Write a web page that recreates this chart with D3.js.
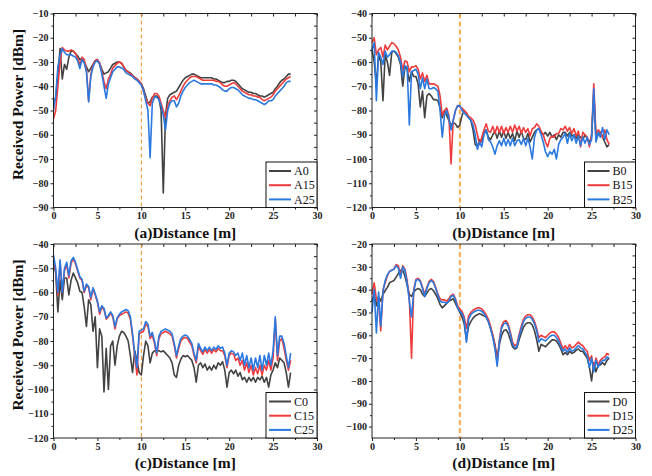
<!DOCTYPE html>
<html>
<head>
<meta charset="utf-8">
<script src="https://cdn.jsdelivr.net/npm/d3@7"></script>
<style>
    body { margin: 0; background: #fff; }
    svg { display: block; }
</style>
</head>
<body>
<div id="chart"></div>
<script>
// measurement positions along the corridor [m], one sample every 0.25 m
const distance = d3.range(0, 27.001, 0.25);

const xTicks = [0, 5, 10, 15, 20, 25, 30];
const xMinorTicks = [2.5, 7.5, 12.5, 17.5, 22.5, 27.5];
const yTicksA = [-90, -80, -70, -60, -50, -40, -30, -20, -10];
const yTicksB = [-120, -110, -100, -90, -80, -70, -60, -50, -40];
const yTicksD = [-100, -90, -80, -70, -60, -50, -40, -30, -20];

const seriesColors = ["#424242", "#ef3b3b", "#2a79e0"];

// panel (a)
const A0 = [
    -47, -45, -35, -24.5, -37, -31, -33, -28,
    -25.5, -25.5, -26.5, -27.5, -29, -28.5, -30, -32,
    -34, -32.5, -31, -29.5, -29, -30.5, -33, -35,
    -34.5, -34, -32.5, -31, -30.5, -30, -30, -30.5,
    -32, -33.5, -34, -34.5, -35.5, -36.5, -37, -38,
    -39, -41, -44, -47, -46.5, -44.5, -44, -44,
    -45, -50, -84, -52, -45, -43.5, -43, -42.5,
    -42, -40.5, -39, -37.5, -36.5, -36, -35.5, -35,
    -35, -35.5, -36, -36.5, -36.5, -36.5, -36.5, -36.5,
    -36.5, -37, -37, -37.5, -38, -38.5, -38.5, -38,
    -38, -37.5, -37.5, -38, -39, -40, -41, -41.5,
    -42, -42.5, -42.5, -43, -43, -43.5, -44, -44,
    -44.5, -44, -43.5, -43, -42.5, -41, -40, -38.5,
    -37.5, -37, -36, -35, -35
];
const A15 = [
    -53.5, -50, -40, -30, -24, -25, -25.5, -25.5,
    -25, -25.5, -26.5, -28.5, -31, -28, -29, -33,
    -46, -35, -31, -29.5, -29, -30.5, -34, -38,
    -41, -37, -35, -32.5, -31.5, -30.5, -30, -30.5,
    -32, -33.5, -34, -35, -35.5, -36.5, -37, -38,
    -39, -42, -45, -47, -48, -45, -43, -43,
    -44, -47, -50, -53, -48, -46, -44.5, -44,
    -45.5, -44, -42, -40, -38.5, -37.5, -36.5, -36,
    -36, -36, -36.5, -37, -37.5, -37.5, -37.5, -37.5,
    -37.5, -37.5, -38, -38, -38.5, -39.5, -40, -40,
    -39.5, -39, -38.5, -39, -40, -41, -42, -42.5,
    -43, -43.5, -43.5, -44, -44, -44.5, -44.5, -45.5,
    -46, -45.5, -45, -44.5, -43.5, -42, -41, -40,
    -39, -38, -37, -36.5, -36
];
const A25 = [
    -50, -44, -32, -27, -24.5, -26, -27, -27,
    -27, -27.5, -28, -29.5, -32.7, -29, -30.5, -34,
    -46.5, -36, -32, -30, -29.5, -31, -35, -40,
    -45, -39, -36.5, -34, -33, -32, -32, -32.5,
    -33, -34.5, -35, -35.5, -36, -37, -37.5, -38.5,
    -39.5, -42, -46, -50, -69.5, -47, -44.5, -44.5,
    -45.5, -48, -52, -58, -50, -47, -46, -46,
    -48.5, -47, -44, -42, -40.5, -39.5, -38.5, -38,
    -37.5, -38, -38.5, -39, -39, -39, -39, -39,
    -39, -39.5, -39.5, -40, -40.5, -41.5, -42, -42,
    -41, -40.5, -40.5, -41, -41.5, -42.5, -43.5, -44,
    -44.5, -45, -45, -45.5, -45.5, -46, -46.5, -47,
    -47.5, -47, -46, -46, -45.5, -44, -43, -42,
    -41, -40, -38.5, -38, -38
];

// panel (b)
const B0 = [
    -55, -60, -69, -57, -60, -76, -57, -60,
    -65.5, -56, -55.5, -56.5, -58, -61, -70, -62,
    -63, -68, -64, -66, -66, -69, -78.5, -72,
    -83, -74, -73, -74, -75.5, -75.5, -76, -79,
    -83, -80, -82, -84, -86, -85, -85.5, -87,
    -86, -82, -80, -81, -83, -84, -88, -94,
    -95, -92, -93, -89, -88, -91, -92, -90,
    -88.5, -91.5, -88.5, -91, -88.5, -91.5, -89, -91.5,
    -89.5, -92.5, -88.5, -91, -88.5, -91.5, -92, -89.5,
    -93, -91, -89, -88, -87.5, -89, -90, -89,
    -90.5, -89, -91, -90, -92, -90, -91, -89,
    -89, -90.5, -89, -90.5, -90, -91.5, -90, -91,
    -92, -90, -91.5, -93, -91, -73, -92, -90,
    -89, -91, -93, -95, -94
];
const B15 = [
    -52, -50, -57, -55, -54, -58, -53, -55,
    -53.5, -52, -52.5, -53.5, -55, -58, -63.5, -59.5,
    -60, -64, -62, -62, -61.5, -63, -67, -64.5,
    -68, -65.5, -69, -69, -69, -69.5, -70, -74,
    -82, -80, -79, -82, -102, -84, -80, -78,
    -78.5, -79, -80, -81, -82.5, -83, -84, -86,
    -90, -94, -91, -88, -85.5, -88.5, -89, -86.5,
    -89.5, -86.5, -89, -86.5, -89.5, -87, -89, -86.5,
    -89, -86, -88.5, -86.5, -89.5, -87, -89, -87.5,
    -90.5, -87.5, -87, -85.5, -86.5, -88.5, -90, -93,
    -95, -91.5, -90.5, -91, -89.5, -89.5, -87.5, -88,
    -86.5, -88.5, -87, -89.5, -87.5, -90.5, -88.5, -95,
    -89, -90, -91, -95, -90, -69, -90, -88,
    -89, -91, -88, -92, -94
];
const B25 = [
    -55, -52, -76, -56, -58, -61, -55.5, -58,
    -57, -55.5, -55.5, -56, -57.5, -60, -66, -61.5,
    -62, -86, -64, -63.5, -63, -65, -71, -66.5,
    -71, -67, -71, -71, -70.5, -71, -72, -80,
    -91, -82, -80, -83, -88, -84, -80, -78,
    -78, -80, -81, -82, -83, -84, -86, -90,
    -96, -93, -95, -90, -88, -92, -93, -95,
    -98, -94.5, -92.5, -94.5, -91.5, -94.5, -92, -94.5,
    -91.5, -94.5, -92.5, -92, -94, -91.5, -94.5, -91.5,
    -95, -100, -91, -88, -87.5, -90, -93, -97,
    -99, -97, -98, -96, -100, -94, -92, -91,
    -89.5, -93.5, -89.5, -92.5, -90, -93.5, -90.5, -94.5,
    -91, -93.5, -91, -94, -92, -71, -93, -89,
    -91, -87, -92, -88, -90
];

// panel (c)
const C0 = [
    -47, -52, -68, -55, -63, -54, -54, -61,
    -55, -52, -54, -56, -59.5, -60, -66, -74,
    -63, -65, -76, -70, -91, -75, -78, -101,
    -83, -100, -82, -80, -90, -82, -78, -76,
    -76.5, -78, -80, -86, -93, -84, -88, -93,
    -94, -86, -80, -82, -89, -85, -84, -84,
    -84, -84.5, -84, -85, -86, -87, -89, -94,
    -95, -90, -87.5, -86, -86.5, -86, -87, -88,
    -91, -97, -90, -89, -91, -89.5, -92, -90.5,
    -92, -90, -91.5, -89, -90, -88.5, -92, -99,
    -93, -92, -93.5, -92, -94.5, -93, -96, -95,
    -97, -95, -96.5, -95, -97, -95, -96, -94.5,
    -97, -95, -99, -94, -92, -89, -91, -87,
    -88, -89, -93, -99, -93
];
const C15 = [
    -46, -51, -61, -47.5, -60, -51, -48.5, -54,
    -48, -46, -48, -51, -54, -55, -60, -57,
    -58, -63, -58.5, -61, -64, -69, -66, -67,
    -71, -70, -68.5, -70, -75, -71, -69.5, -69,
    -68.5, -68, -68.5, -71, -78, -86, -94, -77,
    -76.5, -76, -73, -74, -79, -77.5, -81, -86,
    -79, -77, -76.5, -76, -76.5, -77, -78, -82,
    -87, -83, -80, -79, -78.5, -79, -80.5, -82,
    -86, -89, -82, -84, -85.5, -83.5, -85, -83.5,
    -85, -83.5, -84.5, -83, -84, -84, -86, -91,
    -86, -85, -85.5, -88, -87, -90, -88, -92,
    -89, -93, -90, -94, -91, -93.5, -90, -94,
    -90, -92, -88, -92, -87, -71, -88, -80,
    -79, -83, -88, -92, -88
];
const C25 = [
    -44.5, -50, -60, -46.5, -60, -50, -47.5, -53,
    -47, -45.5, -47.5, -50.5, -53.5, -54.5, -59.5, -56.5,
    -57.5, -62, -58, -60.5, -63.5, -68, -65.5, -66.5,
    -70.5, -69.5, -68, -69.5, -74, -70.5, -69, -68,
    -67.5, -67, -67.5, -70, -77, -85, -91, -76,
    -75.5, -75, -72, -73, -78, -76.5, -80, -85,
    -78, -76, -75.5, -75, -75.5, -76, -77, -81,
    -86, -82, -79, -78, -77.5, -78, -79.5, -81,
    -85, -88, -81, -83, -84.5, -82.5, -84, -82.5,
    -84, -82.5, -83.5, -82, -83, -82.5, -85, -90,
    -85, -84, -84.5, -86, -85, -88, -85, -90,
    -86, -91, -87, -92, -87, -91, -86, -92,
    -86, -90, -85, -90, -84, -70, -86, -78,
    -78, -81, -86, -91, -85
];

// panel (d)
const D0 = [
    -45, -42, -47, -43, -45, -42, -40.5, -39,
    -37, -36.5, -36, -34.5, -33, -31.5, -31.5, -34,
    -38, -42, -43, -41, -40, -39.5, -40, -42,
    -43, -41.5, -40, -39.5, -40.5, -42, -44, -46.5,
    -48, -47, -46, -45, -44.5, -44, -46, -48,
    -50, -52, -55, -62, -56, -54, -52.5, -51.5,
    -51, -50.5, -51, -51.5, -52, -54, -57, -60,
    -64, -70, -64, -60, -58, -57.5, -59, -62,
    -65, -66, -65.5, -62, -59, -56.5, -55, -54.5,
    -54.5, -55.5, -58, -62, -67, -64, -64.5, -65,
    -64, -63, -62, -62, -62.5, -64, -66, -68.5,
    -67.5, -68.5, -67, -68, -67.5, -66.5, -66, -67,
    -67, -68.5, -70, -74, -80, -72, -76, -73,
    -73, -72, -73, -71, -70
];
const D15 = [
    -42, -37, -44, -46, -58, -40, -37, -34,
    -32, -31.5, -31, -29, -29.5, -34, -29.5, -31,
    -36, -44, -70, -40, -35.5, -35, -36, -39,
    -42, -39, -36.5, -35.5, -36.5, -39, -42, -44,
    -44.5, -44.5, -45, -44, -42.5, -42, -44, -47,
    -48.5, -49.5, -52, -57, -51.5, -50, -49, -48.5,
    -48, -48, -48.5, -49.5, -51, -53, -56, -60,
    -65, -72, -62, -56, -54, -53.5, -55, -58.5,
    -63, -64.5, -64, -59.5, -56, -53, -51.5, -51,
    -51, -52, -54, -57, -61, -60, -60.5, -61,
    -60, -59, -58.5, -58.5, -59.5, -61, -63.5, -66,
    -64.5, -66, -64, -65.5, -65, -64, -63, -64,
    -64.5, -66, -67, -71, -69, -75, -70, -73,
    -71, -70, -69.5, -68, -68.5
];
const D25 = [
    -50, -40, -59, -41, -56, -41, -36, -33.5,
    -32, -31.5, -31, -29.5, -30.5, -35, -30, -31.5,
    -37, -45, -52, -41, -36, -35.5, -36.5, -39.5,
    -43, -39.5, -37, -36, -37, -39.5, -42.5, -45,
    -45.5, -45.5, -46, -45, -43, -42.5, -44.5, -48,
    -49.5, -50.5, -53, -63, -53, -51, -50, -49.5,
    -49, -49, -49.5, -50.5, -52, -54, -57, -61,
    -66, -73.5, -63, -57, -55, -54.5, -56, -59.5,
    -64, -65.5, -65, -60.5, -57, -54, -52.5, -52,
    -52, -53, -55, -58, -63, -61.5, -62, -62.5,
    -61.5, -60.5, -60, -60, -61, -62.5, -65, -67,
    -66, -67.5, -65.5, -67, -66.5, -65.5, -64.5, -65.5,
    -66, -67.5, -69, -74, -70, -76, -71, -74,
    -72, -71, -71, -69.5, -70
];

class PowerPanel {
    constructor(_svg, _opts) {
        this.svg = _svg;
        this.opts = _opts;

        this.initVis();
    }

    initVis() {
        const vis = this;
        const o = vis.opts;

        vis.width = 263.5;
        vis.height = 194;

        vis.g = vis.svg.append("g")
            .attr("transform", `translate(${o.left},${o.top})`);

        vis.x = d3.scaleLinear().domain([0, 30]).range([0, vis.width]);
        vis.y = d3.scaleLinear().domain(o.yDomain).range([vis.height, 0]);

        const yMinor = o.yTicks.slice(0, -1).map(v => v + 5);

        // bottom + left point outward, top + right point inward (origin style)
        vis.g.append("g").attr("class", "axis")
            .attr("transform", `translate(0,${vis.height})`)
            .call(d3.axisBottom(vis.x).tickValues(xTicks).tickSize(3).tickPadding(1.5));
        vis.g.append("g").attr("class", "axis minor")
            .attr("transform", `translate(0,${vis.height})`)
            .call(d3.axisBottom(vis.x).tickValues(xMinorTicks).tickSize(2).tickFormat(""));
        vis.g.append("g").attr("class", "axis")
            .call(d3.axisBottom(vis.x).tickValues(xTicks.concat(xMinorTicks)).tickSize(3).tickFormat(""));

        vis.g.append("g").attr("class", "axis")
            .call(d3.axisLeft(vis.y).tickValues(o.yTicks).tickSize(3).tickPadding(2));
        vis.g.append("g").attr("class", "axis minor")
            .call(d3.axisLeft(vis.y).tickValues(yMinor).tickSize(2).tickFormat(""));
        vis.g.append("g").attr("class", "axis")
            .attr("transform", `translate(${vis.width},0)`)
            .call(d3.axisLeft(vis.y).tickValues(o.yTicks.concat(yMinor)).tickSize(3).tickFormat(""));

        vis.g.selectAll(".axis .domain").remove();
        vis.g.selectAll(".axis line").attr("stroke", "#222");
        vis.g.selectAll(".axis text")
            .attr("font-family", "Liberation Serif, serif")
            .attr("font-weight", "bold")
            .attr("font-size", "10px")
            .attr("fill", "#222");

        vis.g.append("line")
            .attr("x1", vis.x(10)).attr("x2", vis.x(10))
            .attr("y1", 0).attr("y2", vis.height)
            .attr("stroke", o.markColor)
            .attr("stroke-width", o.markWidth)
            .attr("stroke-dasharray", o.markDash);

        vis.line = d3.line()
            .x((d, i) => vis.x(distance[i]))
            .y(d => vis.y(d));

        vis.g.selectAll(".trace")
            .data(o.series)
            .enter()
            .append("path")
            .attr("class", "trace")
            .attr("fill", "none")
            .attr("stroke", (d, i) => seriesColors[i])
            .attr("stroke-width", 1.6)
            .attr("stroke-linejoin", "round")
            .attr("d", d => vis.line(d));

        vis.g.append("rect")
            .attr("width", vis.width).attr("height", vis.height)
            .attr("fill", "none")
            .attr("stroke", "#222")
            .attr("stroke-width", 1);

        // legend box, bottom right corner
        const lw = 51, lh = 45.5;
        const leg = vis.g.append("g")
            .attr("transform", `translate(${vis.width - lw},${vis.height - lh})`);
        leg.append("rect")
            .attr("width", lw).attr("height", lh)
            .attr("fill", "#fff")
            .attr("stroke", "#111")
            .attr("stroke-width", 1);
        o.names.forEach((name, i) => {
            const cy = 9 + i * 14.2;
            leg.append("line")
                .attr("x1", 3).attr("x2", 25)
                .attr("y1", cy).attr("y2", cy)
                .attr("stroke", seriesColors[i])
                .attr("stroke-width", 2);
            leg.append("text")
                .attr("x", 28).attr("y", cy)
                .attr("dy", "0.35em")
                .attr("font-family", "Liberation Serif, serif")
                .attr("font-size", "12px")
                .attr("fill", "#111")
                .text(name);
        });

        vis.g.append("text")
            .attr("x", vis.width / 2)
            .attr("y", vis.height + 30)
            .attr("text-anchor", "middle")
            .attr("font-family", "Liberation Serif, serif")
            .attr("font-weight", "bold")
            .attr("font-size", "15.5px")
            .attr("fill", "#111")
            .text(o.xLabel);

        if (o.showYLabel) {
            vis.g.append("text")
                .attr("transform", `translate(${23 - o.left},${vis.height / 2 - 6}) rotate(-90)`)
                .attr("text-anchor", "middle")
                .attr("font-family", "Liberation Serif, serif")
                .attr("font-weight", "bold")
                .attr("font-size", "15.5px")
                .attr("fill", "#111")
                .text("Received Power [dBm]");
        }
    }
}

const svg = d3.select("#chart")
    .append("svg")
    .attr("width", 652)
    .attr("height", 476);

const thinMark = { markColor: "#f08a24", markWidth: 1, markDash: "4,3" };
const thickMark = { markColor: "#f6aa52", markWidth: 2, markDash: "5,3" };

new PowerPanel(svg, Object.assign({
    left: 53.5, top: 13.5, yDomain: [-90, -10], yTicks: yTicksA,
    series: [A0, A15, A25], names: ["A0", "A15", "A25"],
    xLabel: "(a)Distance [m]", showYLabel: true
}, thinMark));

new PowerPanel(svg, Object.assign({
    left: 372, top: 13.5, yDomain: [-120, -40], yTicks: yTicksB,
    series: [B0, B15, B25], names: ["B0", "B15", "B25"],
    xLabel: "(b)Distance [m]", showYLabel: false
}, thickMark));

new PowerPanel(svg, Object.assign({
    left: 53.5, top: 244, yDomain: [-120, -40], yTicks: yTicksB,
    series: [C0, C15, C25], names: ["C0", "C15", "C25"],
    xLabel: "(c)Distance [m]", showYLabel: true
}, thinMark));

new PowerPanel(svg, Object.assign({
    left: 372, top: 244, yDomain: [-105, -20], yTicks: yTicksD,
    series: [D0, D15, D25], names: ["D0", "D15", "D25"],
    xLabel: "(d)Distance [m]", showYLabel: false
}, thickMark));
</script>
</body>
</html>
